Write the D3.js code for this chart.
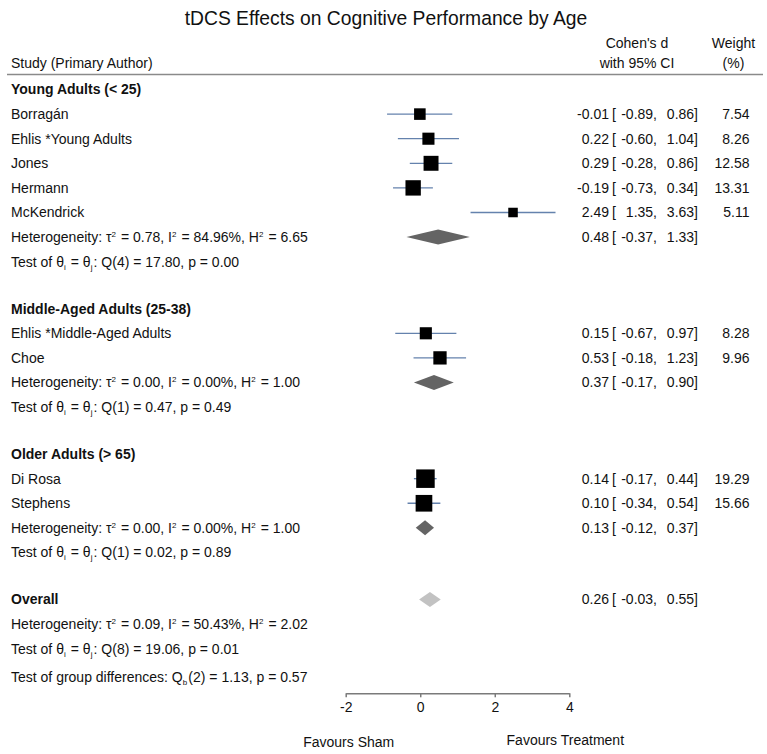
<!DOCTYPE html>
<html>
<head>
<meta charset="utf-8">
<title>tDCS forest plot</title>
<script src="https://cdn.jsdelivr.net/npm/d3@7/dist/d3.min.js"></script>
<style>
    body { margin: 0; background: #fff; }
    svg text { font-family: "Liberation Sans", Arial, Helvetica, sans-serif; fill: #111; }
</style>
</head>
<body>
<div id="main-svg"></div>
<script>
    // studies
    var studies = ["Borragán", "Ehlis *Young Adults", "Jones", "Hermann", "McKendrick",
        "Ehlis *Middle-Aged Adults", "Choe", "Di Rosa", "Stephens"];
    var studyGroup = [0, 0, 0, 0, 0, 1, 1, 2, 2];
    var effect = [-0.01, 0.22, 0.29, -0.19, 2.49, 0.15, 0.53, 0.14, 0.10];
    var ciLow = [-0.89, -0.60, -0.28, -0.73, 1.35, -0.67, -0.18, -0.17, -0.34];
    var ciHigh = [0.86, 1.04, 0.86, 0.34, 3.63, 0.97, 1.23, 0.44, 0.54];
    var weight = [7.54, 8.26, 12.58, 13.31, 5.11, 8.28, 9.96, 19.29, 15.66];

    // subgroups
    var groups = ["Young Adults (< 25)", "Middle-Aged Adults (25-38)", "Older Adults (> 65)"];
    var groupEffect = [0.48, 0.37, 0.13];
    var groupLow = [-0.37, -0.17, -0.12];
    var groupHigh = [1.33, 0.90, 0.37];
    var groupTau2 = ["0.78", "0.00", "0.00"];
    var groupI2 = ["84.96", "0.00", "0.00"];
    var groupH2 = ["6.65", "1.00", "1.00"];
    var groupDf = [4, 1, 1];
    var groupQ = ["17.80", "0.47", "0.02"];
    var groupP = ["0.00", "0.49", "0.89"];

    // overall
    var overallEffect = 0.26, overallLow = -0.03, overallHigh = 0.55;
    var overallStats = { tau2: "0.09", i2: "50.43", h2: "2.02", df: 8, q: "19.06", p: "0.01" };
    var groupDiff = { df: 2, q: "1.13", p: "0.57" };

    var xTicks = [-2, 0, 2, 4];

    var width = 767, height = 754;
    var locale = d3.formatLocale({ decimal: ".", thousands: ",", grouping: [3], currency: ["", ""], minus: "-" });
    var fmt = locale.format(".2f");

    // build the rows, position in row units
    var rows = [];
    var pos = 0;
    var GAP = 1.91;
    groups.forEach(function (g, gi) {
        rows.push({ type: "head", label: g, y: pos }); pos += 1;
        studies.forEach(function (s, i) {
            if (studyGroup[i] != gi) return;
            rows.push({ type: "study", label: s, es: effect[i], lo: ciLow[i], hi: ciHigh[i], w: weight[i], y: pos });
            pos += 1;
        });
        rows.push({ type: "het", tau2: groupTau2[gi], i2: groupI2[gi], h2: groupH2[gi],
            es: groupEffect[gi], lo: groupLow[gi], hi: groupHigh[gi], color: "#646464", y: pos });
        pos += 1;
        rows.push({ type: "test", df: groupDf[gi], q: groupQ[gi], p: groupP[gi], y: pos });
        pos += GAP;
    });
    rows.push({ type: "overall", label: "Overall", es: overallEffect, lo: overallLow, hi: overallHigh, color: "#c2c2c2", y: pos }); pos += 1;
    rows.push({ type: "het", tau2: overallStats.tau2, i2: overallStats.i2, h2: overallStats.h2, y: pos }); pos += 1;
    rows.push({ type: "test", df: overallStats.df, q: overallStats.q, p: overallStats.p, y: pos }); pos += 1.14;
    rows.push({ type: "diff", df: groupDiff.df, q: groupDiff.q, p: groupDiff.p, y: pos });

    var x = d3.scaleLinear().domain([-2, 4]).range([345.7, 569.3]);
    var y = d3.scaleLinear().domain([0, 1]).range([89.5, 114.1]);
    var side = d3.scaleSqrt().domain([0, d3.max(weight)]).range([0, 18.5]);

    var svg = d3.select("#main-svg").append("svg")
        .attr("width", width).attr("height", height);

    // title + headers
    svg.append("text").attr("x", 386).attr("y", 18).attr("dy", "0.35em")
        .attr("text-anchor", "middle").style("font-size", "19.3px")
        .text("tDCS Effects on Cognitive Performance by Age");
    svg.append("text").attr("x", 11).attr("y", 63).attr("dy", "0.35em").style("font-size", "14px")
        .text("Study (Primary Author)");
    svg.append("text").attr("x", 637).attr("y", 43).attr("dy", "0.35em").attr("text-anchor", "middle").style("font-size", "14px").text("Cohen's d");
    svg.append("text").attr("x", 637).attr("y", 63).attr("dy", "0.35em").attr("text-anchor", "middle").style("font-size", "14px").text("with 95% CI");
    svg.append("text").attr("x", 733.5).attr("y", 43).attr("dy", "0.35em").attr("text-anchor", "middle").style("font-size", "14px").text("Weight");
    svg.append("text").attr("x", 733.5).attr("y", 63).attr("dy", "0.35em").attr("text-anchor", "middle").style("font-size", "14px").text("(%)");
    svg.append("line").attr("x1", 7).attr("x2", 763).attr("y1", 74.5).attr("y2", 74.5)
        .style("stroke", "#8a8a8a").style("stroke-width", 1.5);

    // text with small super/sub scripts
    function richText(sel, parts) {
        parts.forEach(function (p) {
            if (typeof p === "object") {
                var off = p.up ? -5 : 3;
                sel.append("tspan").attr("dy", off).style("font-size", "8px").text(p.up || p.down);
                sel.append("tspan").attr("dy", -off).text("\u200a");
            } else {
                sel.append("tspan").text(p);
            }
        });
    }

    var rowG = svg.selectAll("g.row").data(rows).enter().append("g").attr("class", "row");

    rowG.each(function (d) {
        var g = d3.select(this);
        var cy = y(d.y);
        var t = g.append("text").attr("x", 11).attr("y", cy).attr("dy", "0.35em").style("font-size", "14px");
        if (d.type == "head" || d.type == "overall") {
            t.style("font-weight", "bold").text(d.label);
        } else if (d.type == "study") {
            t.text(d.label);
        } else if (d.type == "het") {
            richText(t, ["Heterogeneity: \u03c4", { up: "2" }, " = " + d.tau2 + ", I", { up: "2" },
                " = " + d.i2 + "%, H", { up: "2" }, " = " + d.h2]);
        } else if (d.type == "test") {
            richText(t, ["Test of \u03b8", { down: "i" }, " = \u03b8", { down: "j" },
                ": Q(" + d.df + ") = " + d.q + ", p = " + d.p]);
        } else if (d.type == "diff") {
            richText(t, ["Test of group differences: Q", { down: "b" }, "(" + d.df + ") = " + d.q + ", p = " + d.p]);
        }

        if (d.es == null) return;

        // effect size columns
        var col = function (xx, anchor, s) {
            g.append("text").attr("x", xx).attr("y", cy).attr("dy", "0.35em")
                .attr("text-anchor", anchor).style("font-size", "14px").text(s);
        };
        col(609, "end", fmt(d.es));
        col(612, "start", "[");
        col(657, "end", fmt(d.lo) + ",");
        col(698, "end", fmt(d.hi) + "]");
        if (d.w != null) col(749.5, "end", fmt(d.w));

        if (d.type == "study") {
            g.append("line").attr("x1", x(d.lo)).attr("x2", x(d.hi)).attr("y1", cy).attr("y2", cy)
                .style("stroke", "#6482ad").style("stroke-width", 1.3);
            var s = side(d.w);
            g.append("rect").attr("x", x(d.es) - s / 2).attr("y", cy - s / 2)
                .attr("width", s).attr("height", s).style("fill", "#000");
        } else {
            var h = 7.5;
            g.append("path")
                .attr("d", "M" + x(d.lo) + "," + cy + "L" + x(d.es) + "," + (cy - h) +
                    "L" + x(d.hi) + "," + cy + "L" + x(d.es) + "," + (cy + h) + "Z")
                .style("fill", d.color);
        }
    });

    // axis
    var axis = svg.append("g").attr("transform", "translate(0,693.3)")
        .call(d3.axisBottom(x).tickValues(xTicks).tickSize(4).tickSizeOuter(0).tickPadding(5)
            .tickFormat(locale.format("d")));
    axis.select(".domain").style("stroke", "#7a7a7a").style("stroke-width", 1.5);
    axis.selectAll(".tick line").style("stroke", "#7a7a7a").style("stroke-width", 1.5);
    axis.selectAll(".tick text").style("font-size", "14px").style("font-family", null).attr("fill", "#111");

    svg.append("text").attr("x", x(-2) + 3).attr("y", 742).attr("dy", "0.35em").attr("text-anchor", "middle")
        .style("font-size", "14px").text("Favours Sham");
    svg.append("text").attr("x", x(4) - 4).attr("y", 740).attr("dy", "0.35em").attr("text-anchor", "middle")
        .style("font-size", "14px").text("Favours Treatment");
</script>
</body>
</html>
